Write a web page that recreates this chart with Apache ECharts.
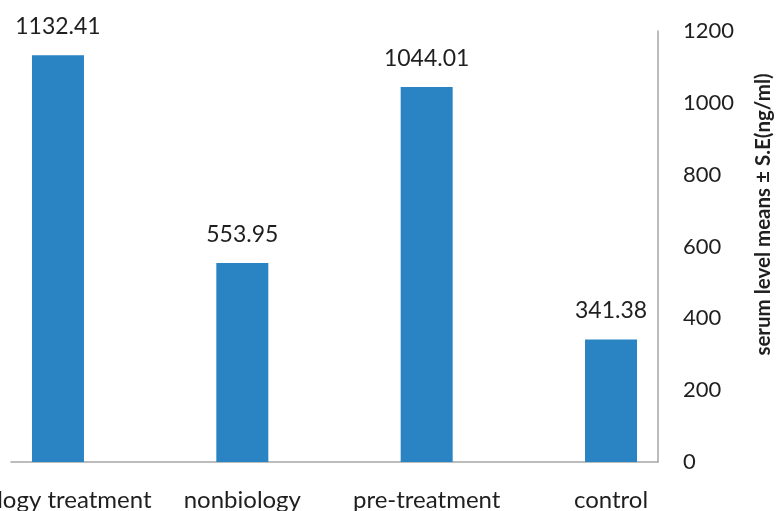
<!DOCTYPE html>
<html>
<head>
<meta charset="utf-8">
<script src="https://cdn.jsdelivr.net/npm/echarts@6/dist/echarts.min.js"></script>
<style>
  html, body { margin: 0; padding: 0; background: #fff; }
  #chart { width: 777px; height: 511px; }
</style>
</head>
<body>
<div id="chart"></div>
<script>
// Groups and their mean serum levels (ng/ml)
const categories = ['biology treatment', 'nonbiology', 'pre-treatment', 'control'];
const means = [1132.41, 553.95, 1044.01, 341.38];
const yTicks = [0, 200, 400, 600, 800, 1000, 1200];

const textColor = '#1f1f1f';
const axisColor = '#a6a6a6';
const font = 'Lato, "Open Sans", sans-serif';
const yMin = yTicks[0];
const yMax = yTicks[yTicks.length - 1];

const chart = echarts.init(document.getElementById('chart'), null, { renderer: 'canvas' });

chart.setOption({
  animation: false,
  backgroundColor: '#ffffff',
  grid: [
    // bar grid: category bands wider than the framed plot area
    { left: -34.2, right: 73.8, top: 31, bottom: 49, containLabel: false, outerBoundsMode: 'none' },
    // frame grid: baseline and the right-hand value axis
    { left: 11, right: 119, top: 31, bottom: 49, containLabel: false, outerBoundsMode: 'none' }
  ],
  xAxis: [
    {
      gridIndex: 0,
      type: 'category',
      data: categories,
      boundaryGap: true,
      axisLine: { show: false },
      axisTick: { show: false },
      splitLine: { show: false },
      axisLabel: {
        interval: 0,
        color: textColor,
        fontFamily: font,
        fontSize: 24,
        margin: 26
      }
    },
    {
      gridIndex: 1,
      type: 'value',
      min: 0,
      max: 1,
      axisLine: { show: true, onZero: false, lineStyle: { color: axisColor, width: 1.5 } },
      axisTick: { show: false },
      axisLabel: { show: false },
      splitLine: { show: false }
    }
  ],
  yAxis: [
    {
      gridIndex: 0,
      type: 'value',
      min: yMin,
      max: yMax,
      interval: 200,
      show: false,
      splitLine: { show: false }
    },
    {
      gridIndex: 1,
      type: 'value',
      position: 'right',
      min: yMin,
      max: yMax,
      interval: 200,
      splitLine: { show: false },
      axisTick: { show: false },
      axisLine: { show: true, onZero: false, lineStyle: { color: axisColor, width: 1.5 } },
      axisLabel: {
        formatter: v => String(v),
        color: textColor,
        fontFamily: font,
        fontSize: 22,
        margin: 25
      },
      name: 'serum level means ± S.E(ng/ml)',
      nameLocation: 'middle',
      nameRotate: 90,
      nameGap: 95,
      nameTextStyle: {
        color: textColor,
        fontFamily: font,
        fontSize: 20.5,
        fontWeight: 'bold',
        padding: [0, 0, 0, 64]
      }
    }
  ],
  series: [{
    type: 'bar',
    xAxisIndex: 0,
    yAxisIndex: 0,
    barWidth: 52,
    data: means,
    itemStyle: { color: '#2a83c2' },
    label: {
      show: true,
      position: 'top',
      distance: 17,
      formatter: p => p.value.toFixed(2),
      color: textColor,
      fontFamily: font,
      fontSize: 23
    }
  }]
});
</script>
</body>
</html>
